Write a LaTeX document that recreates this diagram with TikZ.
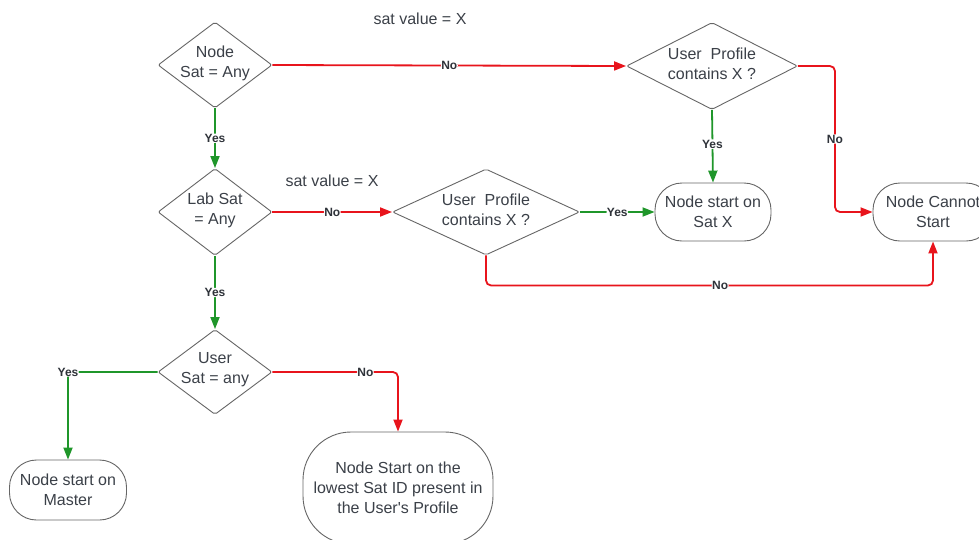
\documentclass[tikz,border=0pt]{standalone}
\usepackage{fontspec}
\setmainfont{Liberation Sans}
\usetikzlibrary{shapes.geometric,arrows.meta}
\definecolor{lred}{HTML}{E8141C}
\definecolor{lgreen}{HTML}{1F962A}
\definecolor{ltext}{HTML}{3B4048}
\definecolor{lline}{HTML}{666666}
\tikzset{
  dia/.style={shape=diamond, draw=lline, line width=0.9pt, inner sep=0pt, rounded corners=2pt},
  dtext/.style={align=center, text=ltext, font=\fontsize{16}{20}\selectfont},
  term/.style={shape=rectangle, draw=lline, line width=0.9pt, align=center, text=ltext,
     font=\fontsize{16}{20}\selectfont, rounded corners=27pt, inner sep=0pt},
  noline/.style={draw=lred, line width=1.8pt, rounded corners=5pt, -{Triangle[length=12pt,width=9pt]}},
  yesline/.style={draw=lgreen, line width=1.8pt, rounded corners=5pt, -{Triangle[length=12pt,width=9pt]}},
  lab/.style={fill=white, inner sep=0.5pt, text=ltext!80!black, font=\bfseries\fontsize{12}{14}\selectfont},
  note/.style={text=ltext, font=\fontsize{16}{20}\selectfont, inner sep=0pt}
}
\begin{document}
\begin{tikzpicture}[x=1pt,y=-1pt]
\useasboundingbox (0,0) rectangle (979,539);
\fill[white] (0,0) rectangle (979,539);

% decisions
\node[dia, minimum width=114pt, minimum height=86pt] (d1) at (215,65) {};
\node[dtext] (d1t) at ([yshift=2pt]d1.center) {Node\\Sat = Any};
\node[dia, minimum width=171pt, minimum height=87pt] (d2) at (712,66) {};
\node[dtext] (d2t) at ([yshift=2pt]d2.center) {User\ \ Profile\\contains X ?};
\node[dia, minimum width=114pt, minimum height=87pt] (d3) at (215,212) {};
\node[dtext] (d3t) at ([yshift=2pt]d3.center) {Lab Sat\\= Any};
\node[dia, minimum width=187pt, minimum height=86pt] (d4) at (486,212) {};
\node[dtext] (d4t) at ([yshift=2pt]d4.center) {User\ \ Profile\\contains X ?};
\node[dia, minimum width=114pt, minimum height=85pt] (d5) at (215,372) {};
\node[dtext] (d5t) at ([yshift=2pt]d5.center) {User\\Sat = any};

% terminals
\node[term, minimum width=116pt, minimum height=58pt] (t1) at (713,212) {Node start on\\Sat X};
\node[term, minimum width=120pt, minimum height=58pt] (t2) at (933,212) {Node Cannot\\Start};
\node[term, minimum width=117pt, minimum height=60pt] (t3) at (68,490) {Node start on\\Master};
\node[term, minimum width=190pt, minimum height=112pt, rounded corners=48pt] (t4) at (398,488) {Node Start on the\\lowest Sat ID present in\\the User\textquotesingle s Profile};

% notes
\node[note] (n1) at (420,19) {sat value = X};
\node[note] (n2) at (332,181) {sat value = X};

% connectors
\draw[noline] (d1.east) -- node[lab]{No} (d2.west);
\draw[yesline] (d1.south) -- node[lab]{Yes} (d3.north);
\draw[yesline] (d2.south) -- node[lab, pos=0.47]{Yes} (t1.north);
\draw[noline] (d2.east) -- ++(37,0) |- node[lab, pos=0.25]{No} (t2.west);
\draw[noline] (d3.east) -- node[lab]{No} (d4.west);
\draw[yesline] (d3.south) -- node[lab]{Yes} (d5.north);
\draw[yesline] (d4.east) -- node[lab]{Yes} (t1.west);
\draw[noline] (d4.south) -- ++(0,30) -| node[lab, pos=0.262]{No} (t2.south);
\draw[yesline] (d5.west) -| node[lab, pos=0.5]{Yes} (t3.north);
\draw[noline] (d5.east) -| node[lab, pos=0.37]{No} (t4.north);
\end{tikzpicture}
\end{document}
